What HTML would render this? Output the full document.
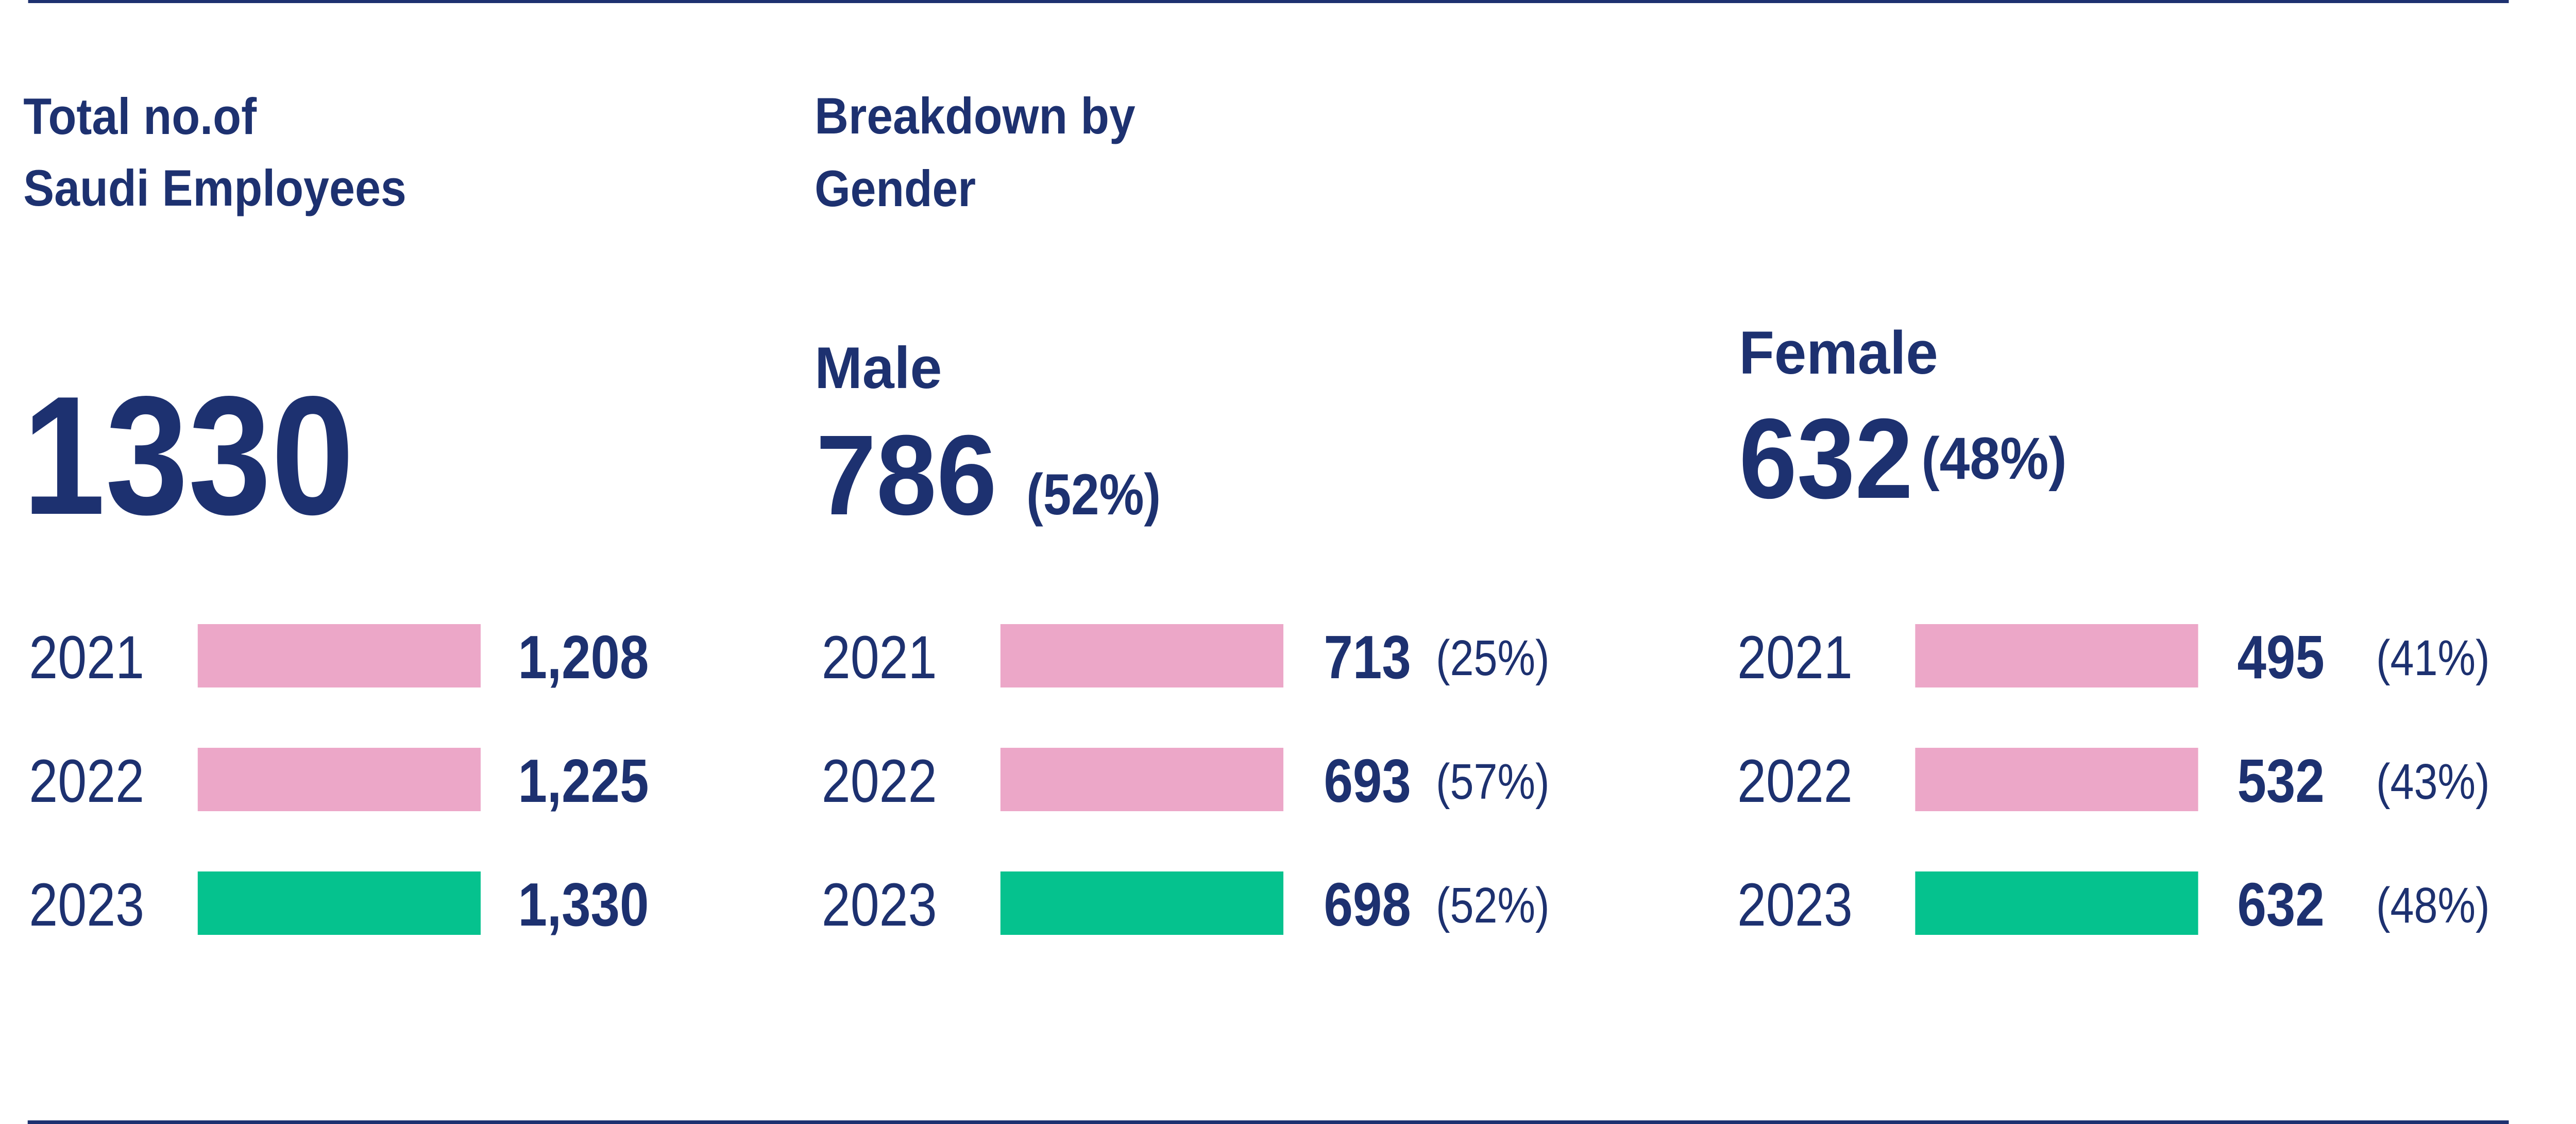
<!DOCTYPE html>
<html>
<head>
<meta charset="utf-8">
<style>
  html,body{margin:0;padding:0;background:#fff;overflow:hidden;width:100%;height:100%;}
  svg{display:block;position:fixed;left:0;top:0;width:100vw;height:100vh;}
  text{font-family:"Liberation Sans",Arial,sans-serif;fill:#1d3170;}
</style>
</head>
<body>
<svg id="chart" viewBox="0 0 5863 2181" preserveAspectRatio="none" xmlns="http://www.w3.org/2000/svg">
  <rect x="64" y="0" width="5646" height="6" fill="#1d3170"/>
  <rect x="63" y="2174" width="5647" height="7" fill="#1d3170"/>

  <text x="53" y="260" font-size="99" font-weight="bold" textLength="531" lengthAdjust="spacingAndGlyphs">Total no.of</text>
  <text x="53" y="399" font-size="99" font-weight="bold" textLength="872" lengthAdjust="spacingAndGlyphs">Saudi Employees</text>
  <text x="51" y="997" font-size="328" font-weight="bold" textLength="755" lengthAdjust="spacingAndGlyphs">1330</text>

  <text x="1854" y="259" font-size="99" font-weight="bold" textLength="730" lengthAdjust="spacingAndGlyphs">Breakdown by</text>
  <text x="1854" y="400" font-size="99" font-weight="bold" textLength="367" lengthAdjust="spacingAndGlyphs">Gender</text>

  <text x="1854" y="753" font-size="114" font-weight="bold" textLength="290" lengthAdjust="spacingAndGlyphs">Male</text>
  <text x="1857" y="998" font-size="221" font-weight="bold" textLength="412" lengthAdjust="spacingAndGlyphs">786</text>
  <text x="2336" y="998" font-size="112" font-weight="bold" textLength="306" lengthAdjust="spacingAndGlyphs">(52%)</text>

  <text x="3958" y="725" font-size="118" font-weight="bold" textLength="453" lengthAdjust="spacingAndGlyphs">Female</text>
  <text x="3958" y="966" font-size="221" font-weight="bold" textLength="396" lengthAdjust="spacingAndGlyphs">632</text>
  <text x="4373" y="929" font-size="115" font-weight="bold" textLength="331" lengthAdjust="spacingAndGlyphs">(48%)</text>

  <g id="rows"></g>
</svg>
<script>
const years = ["2021", "2022", "2023"];
const totalValues = [1208, 1225, 1330];
const maleValues = [713, 693, 698];
const malePct = [25, 57, 52];
const femaleValues = [495, 532, 632];
const femalePct = [41, 43, 48];

const NS = "http://www.w3.org/2000/svg";
const g = document.getElementById("rows");
const rowY = i => 1211 + i * 240;
const baseY = i => rowY(i) + 105;
const barColor = i => (i === years.length - 1 ? "#05c28e" : "#eca7c8");
const fmt = v => v.toLocaleString("en-US");

const groups = [
  {key: "total", yearX: 66, barX: 450, valX: 1179, pctX: null, vals: totalValues, pcts: null},
  {key: "male", yearX: 1870, barX: 2277, valX: 3013, pctX: 3268, vals: maleValues, pcts: malePct},
  {key: "female", yearX: 3954, barX: 4359, valX: 5092, pctX: 5408, vals: femaleValues, pcts: femalePct}
];

function txt(x, y, s, size, bold) {
  const t = document.createElementNS(NS, "text");
  t.setAttribute("x", x);
  t.setAttribute("y", y);
  t.setAttribute("font-size", size);
  if (bold) t.setAttribute("font-weight", "bold");
  t.textContent = s;
  g.appendChild(t);
  return t;
}

groups.forEach(gr => {
  years.forEach((yr, i) => {
    const yl = txt(gr.yearX, baseY(i), yr, 118, false);
    
    

    const r = document.createElementNS(NS, "rect");
    r.setAttribute("x", gr.barX);
    r.setAttribute("y", rowY(i));
    r.setAttribute("width", 644);
    r.setAttribute("height", 123);
    r.setAttribute("fill", barColor(i));
    
    
    g.appendChild(r);

    const v = txt(gr.valX, baseY(i), fmt(gr.vals[i]), 119, true);
    
    

    if (gr.pcts) {
      const p = txt(gr.pctX, baseY(i) - 6, "(" + gr.pcts[i] + "%)", 97, false);
      
      
    }
  });
});
</script>
</body>
</html>
